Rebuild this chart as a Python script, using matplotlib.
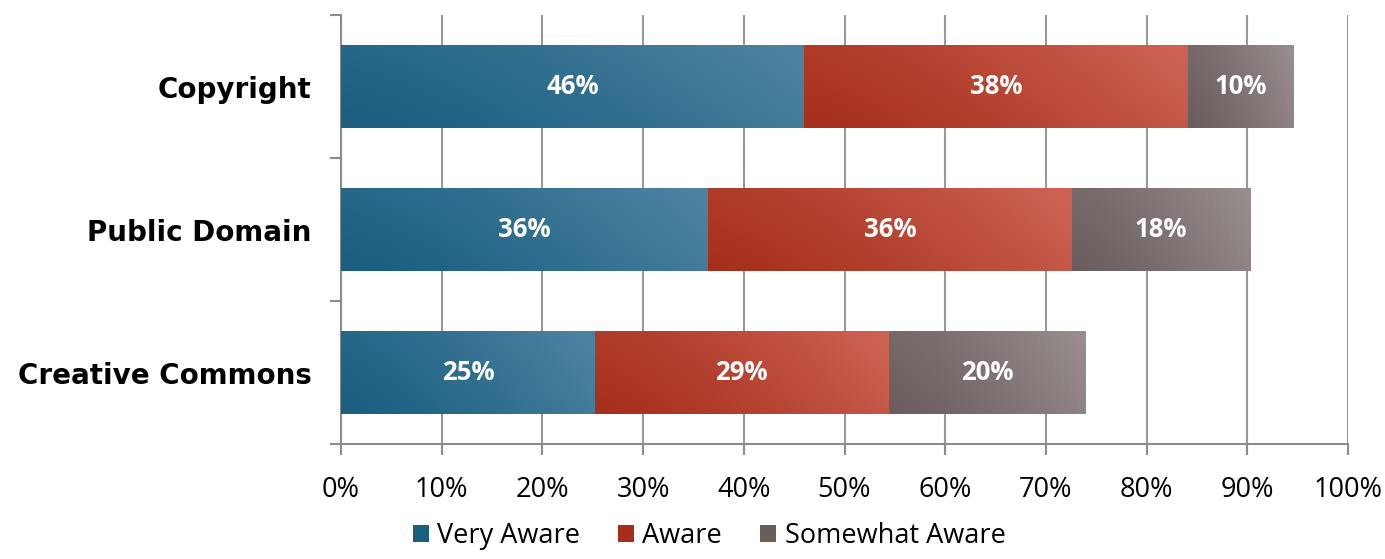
import numpy as np
import matplotlib.pyplot as plt
from matplotlib.colors import LinearSegmentedColormap

categories = ["Copyright", "Public Domain", "Creative Commons"]
series_names = ["Very Aware", "Aware", "Somewhat Aware"]
very_aware = [46.0, 36.4, 25.2]
aware = [38.1, 36.2, 29.2]
somewhat_aware = [10.5, 17.7, 19.5]
label_text = [["46%", "36%", "25%"], ["38%", "36%", "29%"], ["10%", "18%", "20%"]]

# dark -> light ends of each gradient fill
shades = [("#1a5e80", "#4d83a1"), ("#a52f1b", "#cd6254"), ("#6b5d5d", "#988d8d")]


def gradient_fill(ax, bar, dark, light):
    x, y = bar.get_x(), bar.get_y()
    w, h = bar.get_width(), bar.get_height()
    gx = np.linspace(0, 1, 200)[None, :]
    gy = np.linspace(0, 1, 50)[:, None]
    z = np.clip(0.8 * gx ** 1.3 + 0.25 * gy, 0, 1)
    cmap = LinearSegmentedColormap.from_list("g", [dark, light])
    im = ax.imshow(z, cmap=cmap, extent=(x, x + w, y, y + h), origin="upper",
                   aspect="auto", interpolation="bilinear", zorder=3)
    im.set_clip_path(bar)


def main():
    fig = plt.figure(figsize=(13.85, 5.59), dpi=100)
    ax = fig.add_axes([341 / 1385, 1 - 444 / 559, 1007 / 1385, 429 / 559])

    ypos = np.arange(len(categories))
    left = np.zeros(len(categories))
    handles = []
    for values, name, (dark, light), texts in zip(
        [very_aware, aware, somewhat_aware], series_names, shades, label_text
    ):
        bars = ax.barh(ypos, values, left=left, height=0.575, color=light,
                       label=name, zorder=2, linewidth=0)
        for bar in bars:
            gradient_fill(ax, bar, dark, light)
        for b, t in zip(bars, texts):
            ax.text(b.get_x() + b.get_width() / 2, b.get_y() + b.get_height() / 2, t,
                    ha="center", va="center", color="white", fontsize=18.5,
                    fontweight="bold", family="Open Sans", zorder=4)
        handles.append(bars)
        left = left + np.array(values)

    ax.set_xlim(0, 100)
    ax.set_ylim(2.5, -0.5)
    ax.set_xticks(np.arange(0, 101, 10))
    ax.set_xticklabels([f"{v}%" for v in range(0, 101, 10)], fontsize=19.5,
                       family="Open Sans")
    ax.set_yticks(ypos)
    ax.set_yticklabels(categories, fontsize=20, fontweight="bold",
                       family="DejaVu Sans")
    ax.set_yticks([-0.5, 0.5, 1.5, 2.5], minor=True)
    ax.tick_params(axis="y", which="major", length=0, pad=21)
    ax.tick_params(axis="y", which="minor", length=8, color="#8c8c8c", width=1.5)
    ax.tick_params(axis="x", length=8, color="#8c8c8c", width=1.5, pad=15)
    ax.grid(axis="x", color="#999999", linewidth=1.5, zorder=0)
    ax.set_axisbelow(True)
    for s in ["top", "right"]:
        ax.spines[s].set_visible(False)
    for s in ["left", "bottom"]:
        ax.spines[s].set_color("#8c8c8c")
        ax.spines[s].set_linewidth(1.5)

    leg = fig.legend(handles=handles, labels=series_names, loc="lower center",
                     bbox_to_anchor=(0.512, -0.028), ncol=3, frameon=False,
                     prop={"family": "Open Sans", "size": 19.5},
                     handlelength=0.6, handleheight=0.6, handletextpad=0.3,
                     columnspacing=1.4)
    for patch, (dark, light) in zip(leg.get_patches(), shades):
        patch.set_facecolor(dark)

    fig.savefig("out.png", dpi=100)


if __name__ == "__main__":
    main()
